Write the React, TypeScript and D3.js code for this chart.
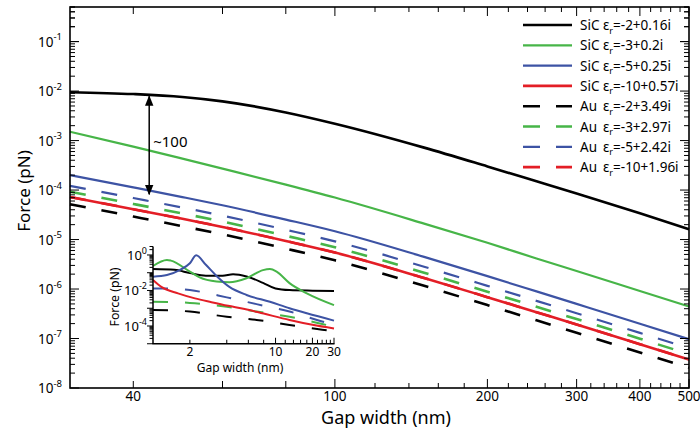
import React from "react";
import * as d3 from "d3";

// Main panel: force versus gap width (nm)
const gapNm = [30, 40, 50, 60, 80, 100, 150, 200, 250, 300, 400, 500];
const sicEps2 = [9.5e-3, 8.7e-3, 7.6e-3, 6.2e-3, 3.7e-3, 2.19e-3, 7.2e-4, 3.0e-4, 1.5e-4, 8.5e-5, 3.4e-5, 1.62e-5];
const sicEps3 = [1.51e-3, 7.55e-4, 4.31e-4, 2.71e-4, 1.29e-4, 7.06e-5, 2.1e-5, 8.59e-6, 4.14e-6, 2.31e-6, 9.12e-7, 4.44e-7];
const sicEps5 = [2.01e-4, 1.135e-4, 7.22e-5, 4.92e-5, 2.53e-5, 1.47e-5, 4.46e-6, 1.82e-6, 8.95e-7, 5.0e-7, 1.99e-7, 9.68e-8];
const sicEps10 = [7.23e-5, 4.1e-5, 2.63e-5, 1.8e-5, 9.35e-6, 5.46e-6, 1.67e-6, 6.85e-7, 3.4e-7, 1.92e-7, 7.69e-8, 3.77e-8];
const auEps2 = [5.18e-5, 2.92e-5, 1.86e-5, 1.27e-5, 6.55e-6, 3.8e-6, 1.16e-6, 4.73e-7, 2.34e-7, 1.31e-7, 5.22e-8, 2.55e-8];
const auEps3 = [9.2e-5, 5.24e-5, 3.36e-5, 2.31e-5, 1.19e-5, 6.98e-6, 2.14e-6, 8.79e-7, 4.38e-7, 2.47e-7, 9.89e-8, 4.85e-8];
const auEps5 = [1.213e-4, 6.9e-5, 4.43e-5, 3.04e-5, 1.574e-5, 9.2e-6, 2.82e-6, 1.16e-6, 5.77e-7, 3.25e-7, 1.3e-7, 6.4e-8];
// Au with eps -10 lies on top of the SiC eps -10 curve
const auEps10 = [7.23e-5, 4.1e-5, 2.63e-5, 1.8e-5, 9.35e-6, 5.46e-6, 1.67e-6, 6.85e-7, 3.4e-7, 1.92e-7, 7.69e-8, 3.77e-8];

// Inset panel: small gaps (1–30 nm)
const insetSic2Gap = [1, 1.5, 2, 2.7, 3.7, 4.5, 5.8, 7.9, 10, 13, 20, 30];
const insetSic2 = [0.16, 0.145, 0.095, 0.068, 0.068, 0.082, 0.062, 0.027, 0.013, 0.0105, 0.0098, 0.0095];
const insetSic3Gap = [1, 1.3, 1.4, 2, 2.4, 3.3, 4.2, 5.8, 7.9, 9, 10.2, 13, 18, 30];
const insetSic3 = [0.24, 0.52, 0.48, 0.115, 0.055, 0.032, 0.029, 0.049, 0.14, 0.16, 0.115, 0.026, 0.0069, 0.0015];
const insetSic5Gap = [1, 1.3, 1.65, 2, 2.25, 2.7, 3.3, 4.2, 5.8, 9, 13, 18, 30];
const insetSic5 = [0.06, 0.074, 0.14, 0.34, 0.95, 0.28, 0.066, 0.016, 0.0056, 0.0023, 0.001, 0.00052, 0.0002];
const insetSic10Gap = [1, 1.17, 1.6, 2.2, 3, 4.1, 5.6, 8, 13, 20, 30];
const insetSic10 = [0.039, 0.016, 0.0069, 0.0036, 0.0022, 0.00138, 0.00091, 0.0005, 0.00022, 0.000117, 7.2e-5];
const insetAuGap = [1, 1.5, 2, 4, 7, 13, 24, 30];
const insetAu5 = [0.013, 0.0125, 0.0105, 0.0041, 0.0017, 0.00065, 0.00018, 0.00012];
const insetAu3 = [0.0023, 0.0022, 0.002, 0.0012, 0.00065, 0.00033, 0.00013, 9.1e-5];
const insetAu2 = [0.00079, 0.00075, 0.00065, 0.00033, 0.00022, 0.000115, 6.2e-5, 5.2e-5];

// Legend text
const legendMaterial = ["SiC", "SiC", "SiC", "SiC", "Au", "Au", "Au", "Au"];
const legendEps = ["=-2+0.16i", "=-3+0.2i", "=-5+0.25i", "=-10+0.57i", "=-2+3.49i", "=-3+2.97i", "=-5+2.42i", "=-10+1.96i"];

// Tick labels
const xTickLabels = [40, 100, 200, 300, 400, 500];
const yTickExps = [-8, -7, -6, -5, -4, -3, -2, -1];
const insetXTickLabels = [2, 10, 20, 30];
const insetYTickExps = [0, -2, -4];

// Annotation
const ratioGap = 43;
const ratioTop = 8.2e-3;
const ratioBottom = 8.2e-5;
const ratioLabel = "~100";

const BLACK = "#000000";
const GREEN = "#47b548";
const BLUE = "#3d53a4";
const RED = "#e31e26";
const FONT = "'Noto Sans', 'Open Sans', sans-serif";

const W = 700;
const H = 432;
const L = 70, R = 689, T = 7, B = 388;

export default function App() {
  const x = d3.scaleLog().domain([30, 500]).range([L, R]);
  const y = d3.scaleLog().domain([1e-8, 0.5]).range([B, T]);

  const ix = d3.scaleLog().domain([1, 30]).range([153, 334]);
  const iy = d3.scaleLog().domain([1e-5, 3]).range([343.75, 246.5]);

  const mainLine = (vals: number[]) =>
    d3.line<number>().x((_, i) => x(gapNm[i])).y((v) => y(v)).curve(d3.curveMonotoneX)(vals) || "";
  const insetLine = (gaps: number[], vals: number[]) =>
    d3.line<number>().x((_, i) => ix(gaps[i])).y((v) => iy(v)).curve(d3.curveMonotoneX)(vals) || "";

  const mainSeries = [
    { vals: sicEps2, color: BLACK, dash: false, w: 2.6 },
    { vals: sicEps3, color: GREEN, dash: false, w: 2.2 },
    { vals: sicEps5, color: BLUE, dash: false, w: 2.2 },
    { vals: sicEps10, color: RED, dash: false, w: 2.6 },
    { vals: auEps2, color: BLACK, dash: true, w: 2.6 },
    { vals: auEps3, color: GREEN, dash: true, w: 2.6 },
    { vals: auEps5, color: BLUE, dash: true, w: 2.2 },
    { vals: auEps10, color: RED, dash: true, w: 2.6 },
  ];

  // dashed first, solid on top
  const drawOrder = [7, 4, 5, 6, 0, 1, 2, 3];

  const insetSeries = [
    { gaps: insetAuGap, vals: insetAu2, color: BLACK, dash: true },
    { gaps: insetAuGap, vals: insetAu3, color: GREEN, dash: true },
    { gaps: insetAuGap, vals: insetAu5, color: BLUE, dash: true },
    { gaps: insetSic2Gap, vals: insetSic2, color: BLACK, dash: false },
    { gaps: insetSic3Gap, vals: insetSic3, color: GREEN, dash: false },
    { gaps: insetSic5Gap, vals: insetSic5, color: BLUE, dash: false },
    { gaps: insetSic10Gap, vals: insetSic10, color: RED, dash: false },
  ];

  // main axis ticks
  const xTicks = d3.range(40, 501, 20);
  const yTicks: { v: number; major: boolean }[] = [];
  for (let e = -8; e <= -1; e++) {
    for (let m = 1; m <= 9; m++) {
      const v = m * Math.pow(10, e);
      if (v <= 0.5) yTicks.push({ v, major: m === 1 });
    }
  }
  for (let m = 1; m <= 5; m++) yTicks.push({ v: m * 0.1, major: m === 1 });

  // inset ticks
  const ixTicks = d3.range(2, 31, 2);
  const iyTicks: { v: number; major: boolean }[] = [];
  for (let e = -5; e <= 0; e++) {
    for (let m = 1; m <= 9; m++) {
      const v = m * Math.pow(10, e);
      if (v <= 3) iyTicks.push({ v, major: m === 1 });
    }
  }

  const xLen = (v: number) => (v % 100 === 0 ? 9 : v < 100 ? 7 : 5);

  const arrowX = x(ratioGap);
  const aTop = y(ratioTop);
  const aBot = y(ratioBottom);

  const legendY0 = 25;
  const legendDy = 20.3;

  return (
    <svg width={W} height={H} style={{ position: "absolute", left: 0, top: 0, background: "#fff" }} fontFamily={FONT}>
      <rect x={0} y={0} width={W} height={H} fill="#fff" />

      {/* curves */}
      <g fill="none" strokeLinecap="butt">
        {drawOrder.map((k) => {
          const s = mainSeries[k];
          return (
            <path key={k} d={mainLine(s.vals)} stroke={s.color} strokeWidth={s.w}
              strokeDasharray={s.dash ? "16 16" : undefined} />
          );
        })}
      </g>

      {/* frame */}
      <rect x={L} y={T} width={R - L} height={B - T} fill="none" stroke="#000" strokeWidth={1.6} />

      {/* ticks on all four sides */}
      <g stroke="#000" strokeWidth={1}>
        {xTicks.map((v) => (
          <g key={v}>
            <line x1={x(v)} x2={x(v)} y1={B} y2={B - xLen(v)} />
            <line x1={x(v)} x2={x(v)} y1={T} y2={T + xLen(v)} />
          </g>
        ))}
        {yTicks.map((t, i) => (
          <g key={i}>
            <line x1={L} x2={L + (t.major ? 9 : 5)} y1={y(t.v)} y2={y(t.v)} />
            <line x1={R} x2={R - (t.major ? 9 : 5)} y1={y(t.v)} y2={y(t.v)} />
          </g>
        ))}
      </g>

      {/* x tick labels */}
      <g fontSize={13.5} textAnchor="middle" fill="#000">
        {xTickLabels.map((v) => (
          <text key={v} x={x(v)} y={401}>{v}</text>
        ))}
      </g>
      {/* y tick labels */}
      <g fontSize={13.5} textAnchor="end" fill="#000">
        {yTickExps.map((e) => (
          <text key={e} x={62} y={y(Math.pow(10, e)) + 5}>
            10<tspan dy={-6.5} fontSize={9.5}>{e}</tspan>
          </text>
        ))}
      </g>

      <text x={386} y={424} fontSize={18} textAnchor="middle">Gap width (nm)</text>
      <text transform="translate(30,191) rotate(-90)" fontSize={17} textAnchor="middle">Force (pN)</text>

      {/* ratio arrow */}
      <defs>
        <marker id="ah" viewBox="0 0 10 10" refX={9} refY={5} markerWidth={7} markerHeight={7} orient="auto-start-reverse">
          <path d="M0,1 L10,5 L0,9 Z" fill="#000" />
        </marker>
      </defs>
      <line x1={arrowX} x2={arrowX} y1={aTop + 1} y2={aBot} stroke="#000" strokeWidth={1.5}
        markerStart="url(#ah)" markerEnd="url(#ah)" />
      <text x={arrowX + 4} y={147} fontSize={15}>{ratioLabel}</text>

      {/* legend */}
      <g>
        {mainSeries.map((s, i) => {
          const ly = legendY0 + i * legendDy;
          return (
            <g key={i}>
              <line x1={523} x2={572} y1={ly} y2={ly} stroke={s.color} strokeWidth={s.w}
                strokeDasharray={s.dash ? "17 16" : undefined} />
              <text x={580} y={ly + 5} fontSize={13.5}>{legendMaterial[i]}</text>
              <text x={603} y={ly + 5} fontSize={13.5}>
                ε<tspan dy={3.5} fontSize={9}>r</tspan><tspan dy={-3.5}>{legendEps[i]}</tspan>
              </text>
            </g>
          );
        })}
      </g>

      {/* inset */}
      <g>
        <g fill="none">
          {insetSeries.map((s, i) => (
            <path key={i} d={insetLine(s.gaps, s.vals)} stroke={s.color} strokeWidth={2}
              strokeDasharray={s.dash ? "15 17" : undefined} />
          ))}
        </g>
        <g stroke="#000" strokeWidth={1}>
          <line x1={153} x2={153} y1={246.5} y2={344} strokeWidth={1.5} />
          <line x1={152.5} x2={334.5} y1={343.75} y2={343.75} strokeWidth={1.5} />
          {ixTicks.map((v) => (
            <line key={v} x1={ix(v)} x2={ix(v)} y1={343.75} y2={343.75 - (v % 10 === 0 ? 6 : 4)} />
          ))}
          {iyTicks.map((t, i) => (
            <line key={i} x1={153} x2={153 - (t.major ? 6 : 3.5)} y1={iy(t.v)} y2={iy(t.v)} />
          ))}
        </g>
        <g fontSize={12} textAnchor="middle">
          {insetXTickLabels.map((v) => (
            <text key={v} x={ix(v)} y={356}>{v}</text>
          ))}
        </g>
        <g fontSize={13} textAnchor="end">
          {insetYTickExps.map((e) => (
            <text key={e} x={147} y={iy(Math.pow(10, e)) + 5}>
              10<tspan dy={-6} fontSize={9}>{e}</tspan>
            </text>
          ))}
        </g>
        <text x={240} y={372} fontSize={12} textAnchor="middle">Gap width (nm)</text>
        <text transform="translate(119,297) rotate(-90)" fontSize={12.3} textAnchor="middle">Force (pN)</text>
      </g>
    </svg>
  );
}
